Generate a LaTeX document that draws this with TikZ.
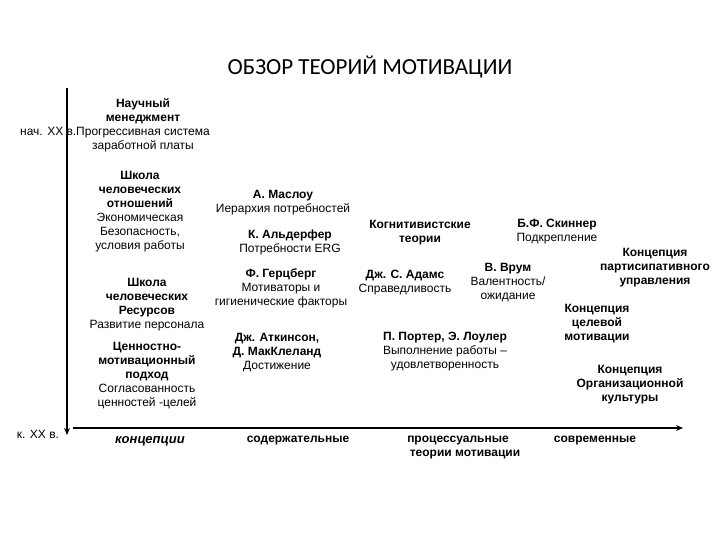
\documentclass[tikz,border=0pt]{standalone}
\usepackage{fontspec}
\setmainfont{Liberation Sans}
\newfontfamily\titlefont{Carlito}
\usetikzlibrary{arrows.meta}
\tikzset{
  txt/.style={font=\fontsize{12}{14}\selectfont, align=center, inner sep=0pt},
  bt/.style={txt, font=\fontsize{12}{14}\selectfont\bfseries},
  axis/.style={line width=2pt, -{Stealth[length=7pt,width=6pt]}}
}
\begin{document}
\begin{tikzpicture}[x=1pt,y=-1pt]
\useasboundingbox (0,0) rectangle (720,540);
\node[font=\titlefont\fontsize{23}{26}\selectfont, inner sep=0pt] (title) at (370,67) {ОБЗОР ТЕОРИЙ МОТИВАЦИИ};

% axes
\coordinate (vtop) at (67,88);
\coordinate (vbot) at (67,435);
\coordinate (hl) at (73,428);
\coordinate (hr) at (683,428);

\node[txt, anchor=west] (nach) at (20,131) {нач. XX в.};
\node[txt] (kon) at (38,434) {к. XX в.};

% left column
\node[txt] (sci) at (143,125) {\textbf{Научный}\\\textbf{менеджмент}\\Прогрессивная система\\заработной платы};
\node[txt] (hro) at (140,212) {\textbf{Школа}\\\textbf{человеческих}\\\textbf{отношений}\\Экономическая\\Безопасность,\\условия работы};
\node[txt] (hrr) at (147,305) {\textbf{Школа}\\\textbf{человеческих}\\\textbf{Ресурсов}\\Развитие персонала};
\node[txt] (val) at (147,376) {\textbf{Ценностно-}\\\textbf{мотивационный}\\\textbf{подход}\\Согласованность\\ценностей -целей};

\draw[axis] (vtop) -- (vbot);
\draw[axis, line width=2.4pt] (hl) -- (hr);

% content theories
\node[txt] (maslow) at (283,203) {\textbf{А. Маслоу}\\Иерархия потребностей};
\node[txt] (alder) at (290,242) {\textbf{К. Альдерфер}\\Потребности ERG};
\node[txt] (herz) at (281,288) {\textbf{Ф. Герцберг}\\Мотиваторы и\\гигиенические факторы};
\node[txt] (atk) at (277,353) {\textbf{Дж. Аткинсон,}\\\textbf{Д. МакКлеланд}\\Достижение};

% process theories
\node[bt] (cog) at (420,233) {Когнитивистские\\теории};
\node[txt] (skin) at (557,232) {\textbf{Б.Ф. Скиннер}\\Подкрепление};
\node[txt] (adams) at (405,283) {\textbf{Дж. С. Адамс}\\Справедливость};
\node[txt] (vroom) at (508,283) {\textbf{В. Врум}\\Валентность/\\ожидание};
\node[txt] (porter) at (445,352) {\textbf{П. Портер, Э. Лоулер}\\Выполнение работы –\\удовлетворенность};

% modern
\node[bt] (part) at (655,268) {Концепция\\партисипативного\\управления};
\node[bt] (goal) at (597,324) {Концепция\\целевой\\мотивации};
\node[bt] (org) at (630,385) {Концепция\\Организационной\\культуры};

% bottom labels
\node[txt, font=\fontsize{13}{15}\selectfont\bfseries\itshape] (conc) at (150,441) {концепции};
\node[bt] (sod) at (298,441) {содержательные};
\node[bt, align=center] (proc) at (458,448) {процессуальные\\\hspace*{14pt}теории мотивации};
\node[bt] (sovr) at (595,441) {современные};
\end{tikzpicture}
\end{document}
